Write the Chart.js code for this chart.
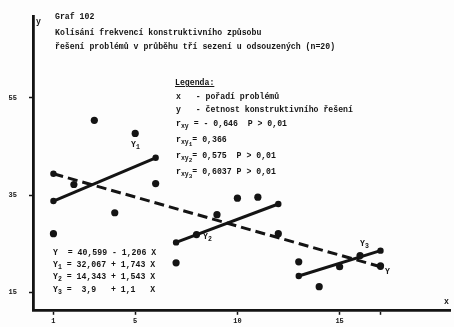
<!DOCTYPE html>
<html>
<head>
<meta charset="utf-8">
<script src="https://cdn.jsdelivr.net/npm/chart.js@4"></script>
<style>
  body { margin: 0; background: #fff; }
  #wrap { position: relative; width: 454px; height: 327px; background: #fdfdfd; }
  canvas { position: absolute; left: 0; top: 0; }
  .t { position: absolute; font-family: "Liberation Mono", "DejaVu Sans Mono", monospace; font-weight: bold;
       font-size: 8.2px; color: #141414; white-space: pre; line-height: 10px; }
  .t sub { font-size: 6.5px; vertical-align: -2px; line-height: 0; }
  .t sub sub { font-size: 6px; vertical-align: -2px; }
  .u { text-decoration: underline; }
</style>
</head>
<body>
<div id="wrap">
  <canvas id="chart" width="454" height="327"></canvas>

  <div class="t" style="left:55px;top:12px">Graf 102</div>
  <div class="t" style="left:55px;top:28px">Kolísání frekvencí konstruktivního způsobu</div>
  <div class="t" style="left:55px;top:42px">řešení problémů v průběhu tří sezení u odsouzených (n=20)</div>

  <div class="t u" style="left:175px;top:78px">Legenda:</div>
  <div class="t" style="left:176px;top:92px">x   - pořadí problémů</div>
  <div class="t" style="left:176px;top:105px">y   - četnost konstruktivního řešení</div>
  <div class="t" style="left:176px;top:119px">r<sub>xy</sub> = - 0,646  P &gt; 0,01</div>
  <div class="t" style="left:176px;top:135px">r<sub>xy<sub>1</sub></sub>= 0,366</div>
  <div class="t" style="left:176px;top:151px">r<sub>xy<sub>2</sub></sub>= 0,575  P &gt; 0,01</div>
  <div class="t" style="left:176px;top:167px">r<sub>xy<sub>3</sub></sub>= 0,6037 P &gt; 0,01</div>

  <div class="t" style="left:53px;top:248px">Y  = 40,599 - 1,206 X</div>
  <div class="t" style="left:53px;top:260px">Y<sub>1</sub> = 32,067 + 1,743 X</div>
  <div class="t" style="left:53px;top:272px">Y<sub>2</sub> = 14,343 + 1,543 X</div>
  <div class="t" style="left:53px;top:285px">Y<sub>3</sub> =  3,9   + 1,1   X</div>

  <div class="t" style="left:131px;top:140px">Y<sub>1</sub></div>
  <div class="t" style="left:203px;top:232px">Y<sub>2</sub></div>
  <div class="t" style="left:360px;top:239px">Y<sub>3</sub></div>
  <div class="t" style="left:385px;top:267px">Y</div>
  <div class="t" style="left:36px;top:17px">y</div>
  <div class="t" style="left:444px;top:297px">x</div>
</div>

<script>
// problem order (x) and frequency of constructive solution (y)
const problems = [1, 2, 3, 4, 5, 6, 7, 8, 9, 10, 11, 12, 13, 14, 15, 16, 17];
const frequency = [27.1, 37.2, 50.4, 31.4, 47.7, 37.4, 21.1, 26.9, 31.0, 34.4, 34.6, 27.1, 21.3, 16.2, 20.3, 22.6, 20.5];

// regression lines, end points
const lineY = [[1, 39.4], [17, 20.3]];
const lineY1 = [[1, 33.8], [6, 42.7]];
const lineY2 = [[7, 25.3], [12, 33.2]];
const lineY3 = [[13, 18.4], [17, 23.6]];

const xTicks = [1, 5, 10, 15, 17];
const xTickLabels = ['1', '5', '10', '15', ''];
const yTicks = [15, 35, 55];

const ink = '#141414';
const toPts = arr => arr.map(p => ({ x: p[0], y: p[1] }));

function lineSet(points, dashed) {
  return {
    type: 'line',
    data: toPts(points),
    borderColor: ink,
    borderWidth: 3,
    borderDash: dashed ? [10, 5] : [],
    pointRadius: 3.2,
    pointBackgroundColor: ink,
    pointBorderWidth: 0,
    fill: false
  };
}

new Chart(document.getElementById('chart').getContext('2d'), {
  type: 'scatter',
  data: {
    datasets: [
      {
        data: problems.map((x, i) => ({ x: x, y: frequency[i] })),
        pointRadius: 3.6,
        pointBackgroundColor: ink,
        pointBorderWidth: 0
      },
      lineSet(lineY, true),
      lineSet(lineY1, false),
      lineSet(lineY2, false),
      lineSet(lineY3, false)
    ]
  },
  options: {
    responsive: false,
    animation: false,
    devicePixelRatio: 1,
    layout: { padding: { top: 5, right: 4, left: 0, bottom: 0 } },
    plugins: { legend: { display: false }, tooltip: { enabled: false } },
    scales: {
      x: {
        type: 'linear',
        min: 0,
        max: 20.4,
        afterFit: s => { s.height = 16; },
        afterBuildTicks: s => { s.ticks = xTicks.map(v => ({ value: v })); },
        border: { color: ink, width: 2.8 },
        grid: { drawOnChartArea: false, color: ink, tickLength: 4, tickWidth: 1.5 },
        ticks: {
          color: ink,
          padding: 2,
          font: { family: 'Liberation Mono', weight: 'bold', size: 7 },
          callback: (v, i) => xTickLabels[i]
        }
      },
      y: {
        type: 'linear',
        min: 11.24,
        max: 71.8,
        afterFit: s => { s.width = 33; },
        afterBuildTicks: s => { s.ticks = yTicks.map(v => ({ value: v })); },
        border: { color: ink, width: 2.8 },
        grid: { drawOnChartArea: false, color: ink, tickLength: 4, tickWidth: 1.5 },
        ticks: {
          color: ink,
          padding: 12,
          font: { family: 'Liberation Mono', weight: 'bold', size: 7 }
        }
      }
    }
  }
});
</script>
</body>
</html>
